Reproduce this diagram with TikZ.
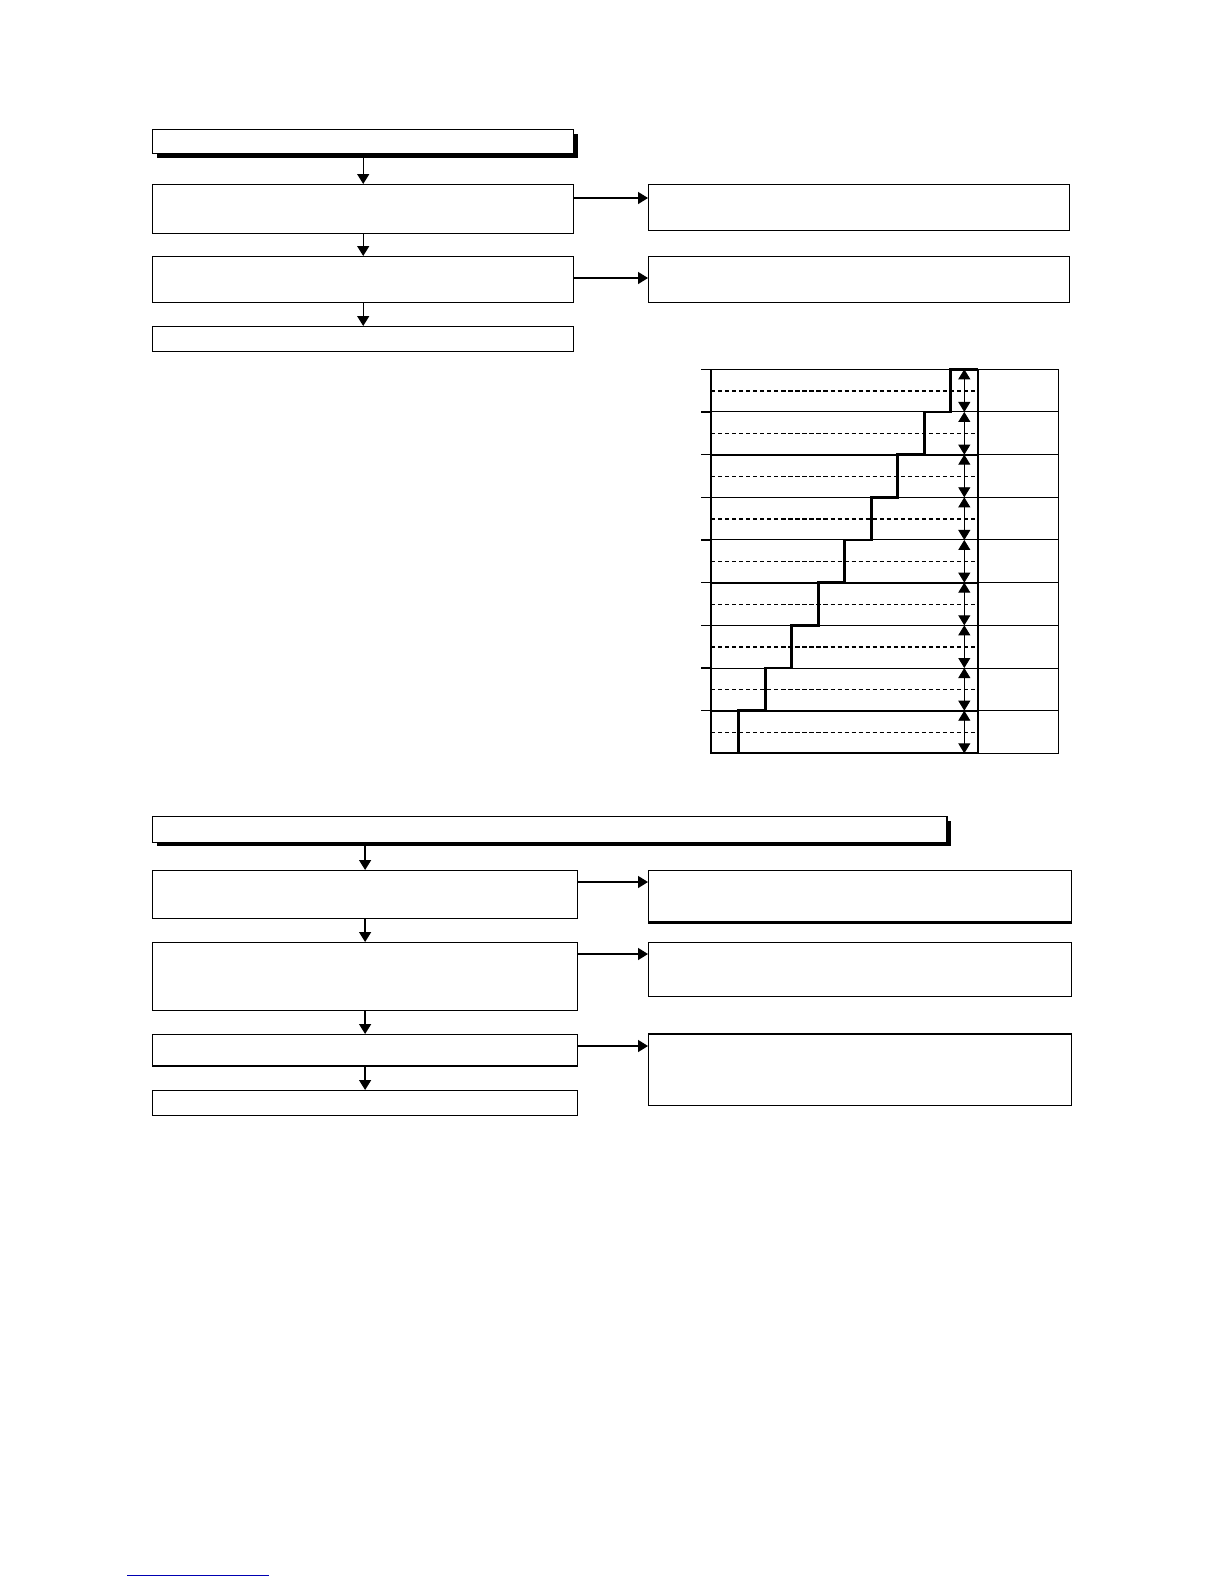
\documentclass[tikz,border=0pt]{standalone}
\usepackage{tikz}
\usetikzlibrary{arrows.meta,shadows}

\begin{document}
\begin{tikzpicture}[x=0.25mm, y=-0.25mm, line width=1pt,
		box/.style = {draw, anchor=north west, inner sep=0pt, minimum width=105.25mm},
		head/.style = {box, fill=white, drop shadow={shadow xshift=1mm, shadow yshift=-1mm, fill=black, opacity=1}},
		arr/.style = {-{Triangle[length=2.5mm, width=3mm]}},
		twohead/.style = {{Triangle[length=2.5mm, width=3mm]}-{Triangle[length=2.5mm, width=3mm]}}]
		\useasboundingbox (0,0) rectangle (1224,1584);
		% upper flow
		\node[head, minimum height=6mm] (top0) at (152,129) {};
		\node[box, minimum height=12.25mm] (top1) at (152,184) {};
		\node[box, minimum height=11.5mm] (top2) at (152,256) {};
		\node[box, minimum height=6.25mm] (top3) at (152,326) {};
		\node[box, minimum height=11.5mm] (res1) at (648,184) {};
		\node[box, minimum height=11.5mm] (res2) at (648,256) {};
		\draw[arr] (top0) -- (top1);
		\draw[arr] (top1) -- (top2);
		\draw[arr] (top2) -- (top3);
		\draw[arr] ([yshift=-3.5mm]top1.north east) -- ([yshift=-3.5mm]res1.north west);
		\draw[arr] ([yshift=-5.5mm]top2.north east) -- ([yshift=-5.5mm]res2.north west);
		% staircase chart
		\foreach \k [evaluate=\k as \y using 369.3+42.67*\k] in {0,...,8} {
			\draw[line width=0.7pt] (711,\y) -- (1058.3,\y);
			\draw (701,\y) -- (711,\y);
			\draw[twohead, line width=0.6pt] (964.3,\y) -- (964.3,{\y+42.67});
		}
		\foreach \k [evaluate=\k as \y using 390.6+42.67*\k] in {1,2,4,5,7,8}
			\draw[densely dashed, line width=0.6pt] (711,\y) -- (975,\y);
		\foreach \k [evaluate=\k as \y using 390.6+42.67*\k] in {0,3,6}
			\draw[dash pattern=on 3pt off 2pt, line width=1.3pt] (711,\y) -- (975,\y);
		\foreach \k [evaluate=\k as \y using 369.3+42.67*\k] in {2,5,8}
			\draw[line width=1.6pt] (711,\y) -- (977.7,\y);
		\draw[line width=0.7pt] (977.7,753.3) -- (1058.3,753.3) -- (1058.3,369.3);
		\draw[line width=1.6pt] (977.7,369.3) -- (977.7,753.3);
		\draw[line width=1.6pt] (711,369.3) -- (711,753.3) -- (977.7,753.3);
		\draw[line width=2pt] (977.7,369.3)
			foreach \k [evaluate=\k as \sx using 950.7-26.5*\k, evaluate=\k as \sy using 369.3+42.67*\k] in {0,...,8} {
				-- (\sx,\sy) -- (\sx,{\sy+42.67})
			};
		% lower flow
		\node[head, minimum width=198.6mm, minimum height=6.4mm] (low0) at (152,816) {};
		\node[box, minimum width=106.2mm, minimum height=12mm] (low1) at (152,870) {};
		\node[box, minimum width=106.2mm, minimum height=17mm] (low2) at (152,942) {};
		\node[box, minimum width=106.2mm, minimum height=7.85mm] (low3) at (152,1034) {};
		\node[box, minimum width=106.2mm, minimum height=6.25mm] (low4) at (152,1090) {};
		\node[box, minimum width=105.75mm, minimum height=12.75mm] (out1) at (648,870) {};
		\node[box, minimum width=105.75mm, minimum height=13.5mm] (out2) at (648,942) {};
		\node[box, minimum width=105.75mm, minimum height=17.75mm] (out3) at (648,1034) {};
		\draw[line width=1.6pt] (out1.south west) -- (out1.south east);
		\draw[line width=1.6pt] (out3.north west) -- (out3.north east);
		\draw[arr] (low0.south -| low1.north) -- (low1.north);
		\draw[arr] (low1) -- (low2);
		\draw[arr] (low2) -- (low3);
		\draw[arr] (low3) -- (low4);
		\draw[arr] ([yshift=-3mm]low1.north east) -- ([yshift=-3mm]out1.north west);
		\draw[arr] ([yshift=-3mm]low2.north east) -- ([yshift=-3mm]out2.north west);
		\draw[arr] ([yshift=-3mm]low3.north east) -- ([yshift=-3mm]out3.north west);
		% footer rule
		\draw[blue!70!black, line width=0.6pt] (127,1575) -- (269,1575);
	\end{tikzpicture}
\end{document}
